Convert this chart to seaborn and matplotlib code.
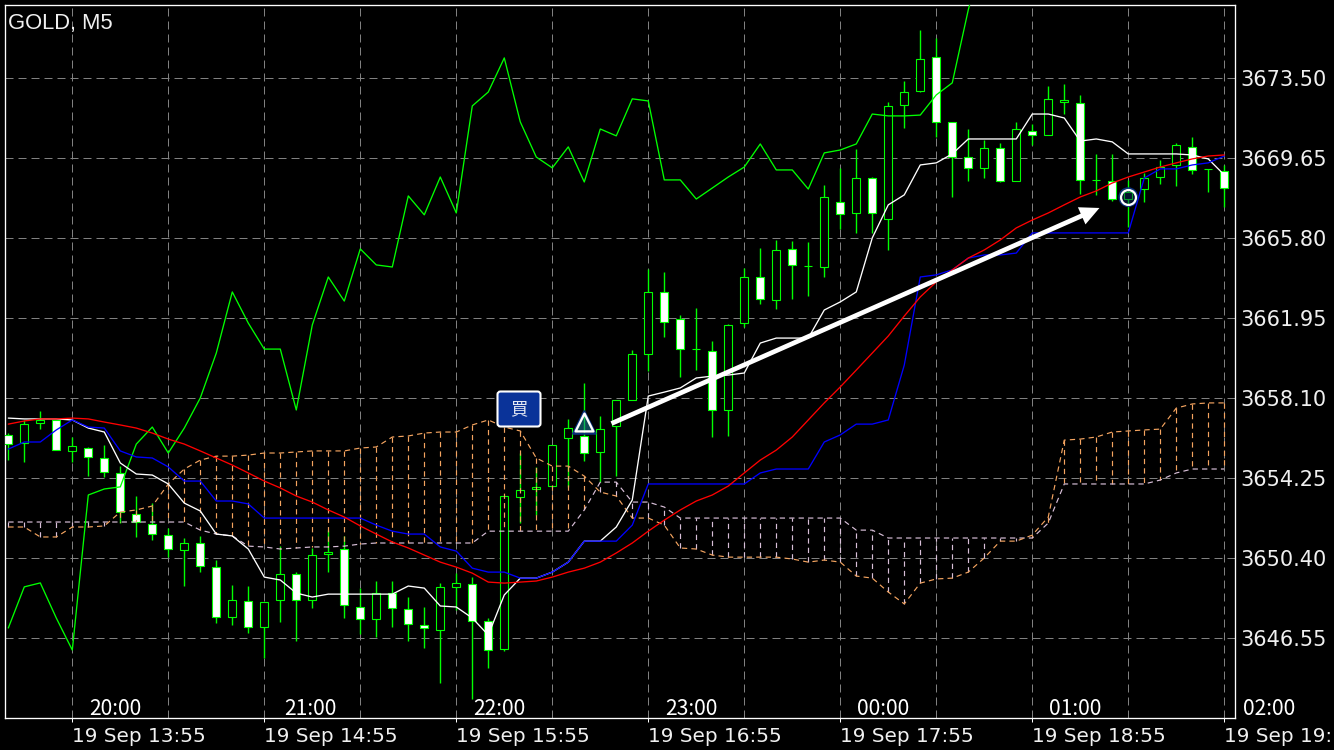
import matplotlib
import matplotlib.pyplot as plt
import numpy as np
import seaborn as sns
from matplotlib.patches import FancyBboxPatch
from matplotlib.transforms import IdentityTransform

matplotlib.use('Agg')

# M5 candles, one value per bar
opens = [3656.34, 3655.95, 3656.89, 3657.06, 3655.57, 3655.71, 3655.23, 3654.51, 3652.53, 3652.05, 3651.52,
         3650.80, 3651.14, 3649.98, 3647.58, 3648.35, 3647.10, 3648.40, 3649.65, 3648.40, 3650.61, 3650.85,
         3648.06, 3647.48, 3648.73, 3647.96, 3647.19, 3646.95, 3649.02, 3649.17, 3647.38, 3646.04, 3653.35,
         3653.74, 3653.88, 3656.19, 3656.29, 3655.52, 3656.77, 3658.02, 3660.23, 3663.22, 3661.92, 3660.47,
         3660.38, 3657.54, 3661.73, 3663.94, 3662.83, 3665.29, 3664.47, 3664.42, 3667.55, 3667.02, 3668.70,
         3666.73, 3672.22, 3672.89, 3674.53, 3671.40, 3669.71, 3669.19, 3670.15, 3668.56, 3670.97, 3670.77,
         3672.36, 3672.31, 3668.61, 3668.56, 3667.69, 3668.17, 3668.75, 3669.33, 3670.20, 3669.14, 3669.04]
highs = [3656.43, 3657.06, 3657.49, 3657.06, 3656.24, 3655.76, 3655.85, 3654.84, 3653.40, 3653.06, 3651.86,
         3651.38, 3651.48, 3650.32, 3649.12, 3649.07, 3648.30, 3650.99, 3649.74, 3650.90, 3651.76, 3651.48,
         3648.97, 3649.31, 3649.31, 3648.54, 3648.06, 3649.21, 3649.69, 3649.50, 3647.53, 3653.40, 3655.47,
         3654.80, 3655.85, 3657.11, 3658.84, 3657.25, 3658.02, 3660.43, 3664.32, 3664.18, 3662.11, 3662.45,
         3660.86, 3661.68, 3664.37, 3665.34, 3665.72, 3665.67, 3665.62, 3668.37, 3669.19, 3670.10, 3668.75,
         3672.36, 3673.37, 3675.83, 3675.44, 3671.40, 3671.06, 3670.53, 3670.39, 3671.40, 3671.30, 3673.13,
         3673.23, 3672.70, 3669.86, 3669.86, 3668.61, 3668.94, 3669.57, 3670.39, 3670.68, 3669.14, 3669.33]
lows = [3655.13, 3655.04, 3656.62, 3655.61, 3655.04, 3654.36, 3654.31, 3652.10, 3651.43, 3651.28, 3650.46,
        3649.07, 3649.74, 3647.29, 3647.19, 3646.81, 3645.60, 3647.34, 3646.42, 3648.01, 3649.74, 3647.53,
        3646.76, 3646.61, 3647.10, 3646.42, 3646.09, 3644.40, 3647.91, 3643.63, 3645.12, 3645.94, 3652.10,
        3652.49, 3653.83, 3653.83, 3655.08, 3654.07, 3654.36, 3658.02, 3659.42, 3661.05, 3659.13, 3659.46,
        3656.24, 3656.29, 3661.53, 3662.64, 3662.40, 3662.88, 3663.03, 3663.94, 3666.25, 3666.06, 3666.06,
        3665.24, 3671.11, 3672.84, 3670.68, 3667.79, 3668.56, 3668.70, 3668.51, 3668.56, 3670.29, 3670.77,
        3671.78, 3667.93, 3667.89, 3667.60, 3666.35, 3667.55, 3668.42, 3668.32, 3668.90, 3668.03, 3667.31]
closes = [3655.90, 3656.86, 3657.06, 3655.61, 3655.81, 3655.28, 3654.56, 3652.63, 3652.15, 3651.57, 3650.85,
          3651.14, 3650.03, 3647.58, 3648.40, 3647.10, 3648.30, 3649.65, 3648.40, 3650.56, 3650.71, 3648.15,
          3647.48, 3648.73, 3648.01, 3647.24, 3647.05, 3649.02, 3649.21, 3647.38, 3645.99, 3653.40, 3653.69,
          3653.83, 3655.85, 3656.67, 3655.47, 3656.62, 3658.02, 3660.23, 3663.22, 3661.77, 3660.47, 3660.47,
          3657.54, 3661.63, 3663.94, 3662.88, 3665.24, 3664.52, 3664.47, 3667.79, 3666.97, 3668.70, 3667.02,
          3672.17, 3672.84, 3674.43, 3671.40, 3669.71, 3669.19, 3670.15, 3668.56, 3671.06, 3670.77, 3672.51,
          3672.46, 3668.61, 3668.61, 3667.69, 3668.03, 3668.70, 3669.23, 3670.29, 3669.09, 3669.14, 3668.22]

# Ichimoku and moving average lines
chikou = [3647.05, 3649.03, 3649.22, 3647.53, 3645.99, 3653.45, 3653.74, 3653.84, 3655.90, 3656.72, 3655.47,
          3656.67, 3658.12, 3660.28, 3663.22, 3661.72, 3660.47, 3660.47, 3657.54, 3661.63, 3663.94, 3662.78,
          3665.29, 3664.52, 3664.42, 3667.84, 3666.93, 3668.75, 3667.02, 3672.17, 3672.84, 3674.48, 3671.40,
          3669.71, 3669.19, 3670.20, 3668.51, 3671.06, 3670.73, 3672.51, 3672.41, 3668.61, 3668.61, 3667.69,
          3668.22, 3668.75, 3669.23, 3670.34, 3669.09, 3669.09, 3668.17, 3669.91, 3670.05, 3670.34, 3671.78,
          3671.69, 3671.69, 3671.73, 3672.70, 3673.28, 3676.79, 3679.68]
tenkan = [3657.15, 3657.11, 3657.11, 3657.11, 3657.06, 3656.67, 3656.48, 3654.99, 3654.46, 3654.41, 3653.98,
          3653.06, 3652.68, 3651.57, 3651.48, 3650.85, 3649.50, 3649.36, 3648.73, 3648.54, 3648.68, 3648.68,
          3648.68, 3648.68, 3648.68, 3649.07, 3648.97, 3648.11, 3648.06, 3647.53, 3646.71, 3648.64, 3649.45,
          3649.45, 3649.74, 3650.22, 3651.23, 3651.23, 3651.91, 3653.21, 3658.21, 3658.40, 3658.60, 3659.08,
          3659.17, 3659.22, 3659.32, 3660.76, 3661.00, 3661.00, 3661.00, 3662.35, 3662.74, 3663.22, 3665.82,
          3667.41, 3667.89, 3669.33, 3669.43, 3669.86, 3670.58, 3670.58, 3670.58, 3670.58, 3671.78, 3671.78,
          3671.59, 3670.48, 3670.58, 3670.44, 3669.86, 3669.86, 3669.86, 3669.86, 3669.81, 3669.62, 3668.85]
kijun = [3655.66, 3656.00, 3656.00, 3656.58, 3657.06, 3656.72, 3656.67, 3655.57, 3655.28, 3655.23, 3654.80,
         3654.12, 3654.12, 3653.16, 3653.16, 3653.02, 3652.34, 3652.34, 3652.34, 3652.34, 3652.34, 3652.34,
         3652.34, 3652.00, 3651.71, 3651.57, 3651.57, 3650.95, 3650.75, 3649.93, 3649.74, 3649.74, 3649.45,
         3649.45, 3649.74, 3650.22, 3651.23, 3651.23, 3651.23, 3652.00, 3653.98, 3653.98, 3653.98, 3653.98,
         3653.98, 3653.98, 3653.98, 3654.51, 3654.70, 3654.70, 3654.70, 3656.00, 3656.34, 3656.86, 3656.86,
         3657.06, 3659.70, 3663.94, 3664.04, 3664.28, 3664.85, 3665.00, 3665.00, 3665.09, 3666.06, 3666.06,
         3666.06, 3666.06, 3666.06, 3666.06, 3666.06, 3668.70, 3669.14, 3669.14, 3669.33, 3669.43, 3669.76]
moving_avg = [3656.86, 3657.01, 3657.11, 3657.11, 3657.15, 3657.11, 3656.96, 3656.82, 3656.67, 3656.43, 3656.14,
              3655.90, 3655.57, 3655.23, 3654.89, 3654.51, 3654.12, 3653.79, 3653.40, 3653.11, 3652.73, 3652.39,
              3651.96, 3651.57, 3651.19, 3650.90, 3650.56, 3650.22, 3649.98, 3649.69, 3649.26, 3649.21, 3649.26,
              3649.31, 3649.50, 3649.74, 3649.93, 3650.22, 3650.66, 3651.14, 3651.71, 3652.24, 3652.73, 3653.16,
              3653.45, 3653.88, 3654.51, 3655.13, 3655.61, 3656.24, 3657.06, 3657.88, 3658.65, 3659.46, 3660.28,
              3661.10, 3662.06, 3662.98, 3663.70, 3664.28, 3664.85, 3665.24, 3665.72, 3666.30, 3666.68, 3667.02,
              3667.41, 3667.79, 3668.08, 3668.46, 3668.75, 3668.99, 3669.23, 3669.43, 3669.62, 3669.76, 3669.81]
span_a = [3651.91, 3651.91, 3651.43, 3651.43, 3651.91, 3651.91, 3651.96, 3652.63, 3652.73, 3652.92, 3653.98,
          3654.70, 3655.13, 3655.32, 3655.32, 3655.37, 3655.47, 3655.47, 3655.52, 3655.57, 3655.57, 3655.57,
          3655.71, 3655.76, 3656.24, 3656.29, 3656.43, 3656.48, 3656.48, 3656.82, 3657.06, 3656.72, 3656.53,
          3655.23, 3654.84, 3654.84, 3654.36, 3653.59, 3653.40, 3652.34, 3652.34, 3652.00, 3650.90, 3650.85,
          3650.56, 3650.46, 3650.46, 3650.46, 3650.46, 3650.37, 3650.22, 3650.32, 3650.22, 3649.55, 3649.45,
          3648.78, 3648.21, 3649.21, 3649.41, 3649.45, 3649.74, 3650.42, 3651.23, 3651.23, 3651.52, 3652.39,
          3656.09, 3656.14, 3656.24, 3656.48, 3656.53, 3656.58, 3656.62, 3657.63, 3657.83, 3657.88, 3657.88]
span_b = [3652.15, 3652.15, 3652.15, 3652.15, 3652.15, 3652.15, 3652.15, 3652.15, 3652.15, 3652.15, 3652.15,
          3652.15, 3651.76, 3651.57, 3651.48, 3650.99, 3650.95, 3650.85, 3650.90, 3650.95, 3650.95, 3650.99,
          3651.09, 3651.14, 3651.14, 3651.14, 3651.14, 3651.14, 3651.14, 3651.14, 3651.71, 3651.71, 3651.71,
          3651.71, 3651.71, 3651.71, 3652.73, 3654.07, 3654.07, 3653.11, 3653.11, 3652.87, 3652.34, 3652.34,
          3652.34, 3652.34, 3652.34, 3652.34, 3652.34, 3652.34, 3652.34, 3652.34, 3652.34, 3651.76, 3651.76,
          3651.38, 3651.38, 3651.38, 3651.38, 3651.38, 3651.38, 3651.38, 3651.38, 3651.38, 3651.38, 3652.10,
          3653.98, 3653.98, 3653.98, 3653.98, 3653.98, 3653.98, 3654.17, 3654.51, 3654.70, 3654.70, 3654.70]

price_ticks = [3646.55, 3650.40, 3654.25, 3658.10, 3661.95, 3665.80, 3669.65, 3673.50]
date_ticks = [4, 16, 28, 40, 52, 64, 76]
date_labels = ['19 Sep 13:55', '19 Sep 14:55', '19 Sep 15:55', '19 Sep 16:55',
               '19 Sep 17:55', '19 Sep 18:55', '19 Sep 19:']
hour_bars = [6.67, 18.86, 30.67, 42.67, 54.67, 66.67, 78.8]
hour_labels = ['20:00', '21:00', '22:00', '23:00', '00:00', '01:00', '02:00']

LIME = '#00ff00'
ORANGE = '#f4a460'
THISTLE = '#d8bfd8'
GRID_PX = 0.72
LINE_W = 0.95
DASH_W = 0.85

sns.set_style('dark', {'axes.facecolor': 'black', 'figure.facecolor': 'black', 'axes.edgecolor': 'white',
                       'grid.color': '#808080', 'axes.grid': False})

fig = plt.figure(figsize=(13.34, 7.5), dpi=100)
ax = fig.add_axes([4.5 / 1334, 1 - 718 / 750, 1230 / 1334, 713.5 / 750])

bars = np.arange(len(opens))
opens, highs, lows, closes = map(np.array, (opens, highs, lows, closes))
falling = closes < opens

# wicks, then bodies: white when falling, hollow when rising
ax.vlines(bars, lows, highs, colors=LIME, lw=1.0, zorder=2)
ax.bar(bars, closes - opens, bottom=opens, width=0.5, color=np.where(falling, 'white', 'black'),
       edgecolor=LIME, linewidth=0.8, zorder=3)

# cloud hatching between the two spans
dash = (0, (4.5, 3.5))
hatch_colors = [ORANGE if a > b else THISTLE for a, b in zip(span_a, span_b)]
ax.vlines(bars, span_a, span_b, colors=hatch_colors, linestyles=[dash], lw=DASH_W, zorder=4)

sns.lineplot(x=bars, y=span_b, color=THISTLE, lw=DASH_W, linestyle=dash, ax=ax, zorder=5)
sns.lineplot(x=bars, y=span_a, color=ORANGE, lw=DASH_W, linestyle=dash, ax=ax, zorder=5)
sns.lineplot(x=bars[:len(chikou)], y=chikou, color=LIME, lw=LINE_W, ax=ax, zorder=6)
sns.lineplot(x=bars, y=tenkan, color='white', lw=LINE_W, ax=ax, zorder=7)
sns.lineplot(x=bars, y=kijun, color='#0000ff', lw=LINE_W, ax=ax, zorder=8)
sns.lineplot(x=bars, y=moving_avg, color='#ff0000', lw=LINE_W, ax=ax, zorder=9)

ax.set_xlim(-0.2375, 76.64)
ax.set_ylim(3642.72, 3677.05)
ax.set_xlabel('')
ax.set_ylabel('')

# grid and axis labels
ax.set_yticks(price_ticks, [f'{p:.2f}' for p in price_ticks], fontsize=15, family='DejaVu Sans', color='#f0f0f0')
ax.set_xticks(date_ticks, date_labels, fontsize=14.4, family='DejaVu Sans', color='#f0f0f0', ha='left')
ax.set_xticks(np.arange(10, 76, 12), minor=True)
ax.yaxis.tick_right()
ax.tick_params(axis='y', length=0, pad=4.2)
ax.tick_params(axis='x', which='major', length=3, width=GRID_PX, color='white', pad=3.5, bottom=True)
ax.tick_params(axis='x', which='minor', length=0)
ax.grid(True, which='both', color='#808080', lw=GRID_PX, linestyle=(0, (8, 5)), zorder=1)
ax.set_axisbelow(True)
for spine in ax.spines.values():
    spine.set_color('white')
    spine.set_linewidth(0.95)

hour_trans = ax.get_xaxis_transform()
for pos, label in zip(hour_bars, hour_labels):
    ax.text(pos, 0.0133, label, transform=hour_trans, ha='center', va='center', color='white',
            fontsize=15.2, family='Noto Sans CJK JP', clip_on=False)

fig.text(8 / 1334, 1 - 29 / 750, 'GOLD, M5', color='#f0f0f0', fontsize=15.8, family='Liberation Sans', va='baseline')

# trade markers
ax.scatter([36], [3656.94], marker='^', s=260, facecolor='none', edgecolor='#0a2f7a', linewidth=1.6, zorder=10)
ax.scatter([36], [3656.94], marker='^', s=165, facecolor=(0.1, 0.5, 0.6, 0.55), edgecolor='white', linewidth=1.7, zorder=11)
ax.scatter([70], [3667.78], marker='o', s=170, facecolor='none', edgecolor='#0a2f7a', linewidth=1.2, zorder=10)
ax.scatter([70], [3667.78], marker='o', s=115, facecolor=(0.05, 0.15, 0.4, 0.45), edgecolor='white', linewidth=1.6, zorder=11)

ax.annotate('', xy=(68.2, 3667.26), xytext=(37.7, 3656.89),
            arrowprops=dict(arrowstyle='simple,tail_width=0.34,head_width=1.35,head_length=1.4', mutation_scale=10,
                            color='white', lw=0, shrinkA=0, shrinkB=0), zorder=12)

# buy label, placed in pixels
box = FancyBboxPatch((497.5, 750 - 426.5), 43, 35, boxstyle='round,pad=0,rounding_size=3', facecolor='#0a3399',
                     edgecolor='white', linewidth=1.5, transform=IdentityTransform(), zorder=13)
fig.add_artist(box)
fig.text(519 / 1334, 1 - 409 / 750, '買', color='#e4e8f4', fontsize=12.5, family='Noto Sans CJK JP',
         ha='center', va='center', zorder=14)

plt.savefig('out.png', dpi=100, facecolor='black')
